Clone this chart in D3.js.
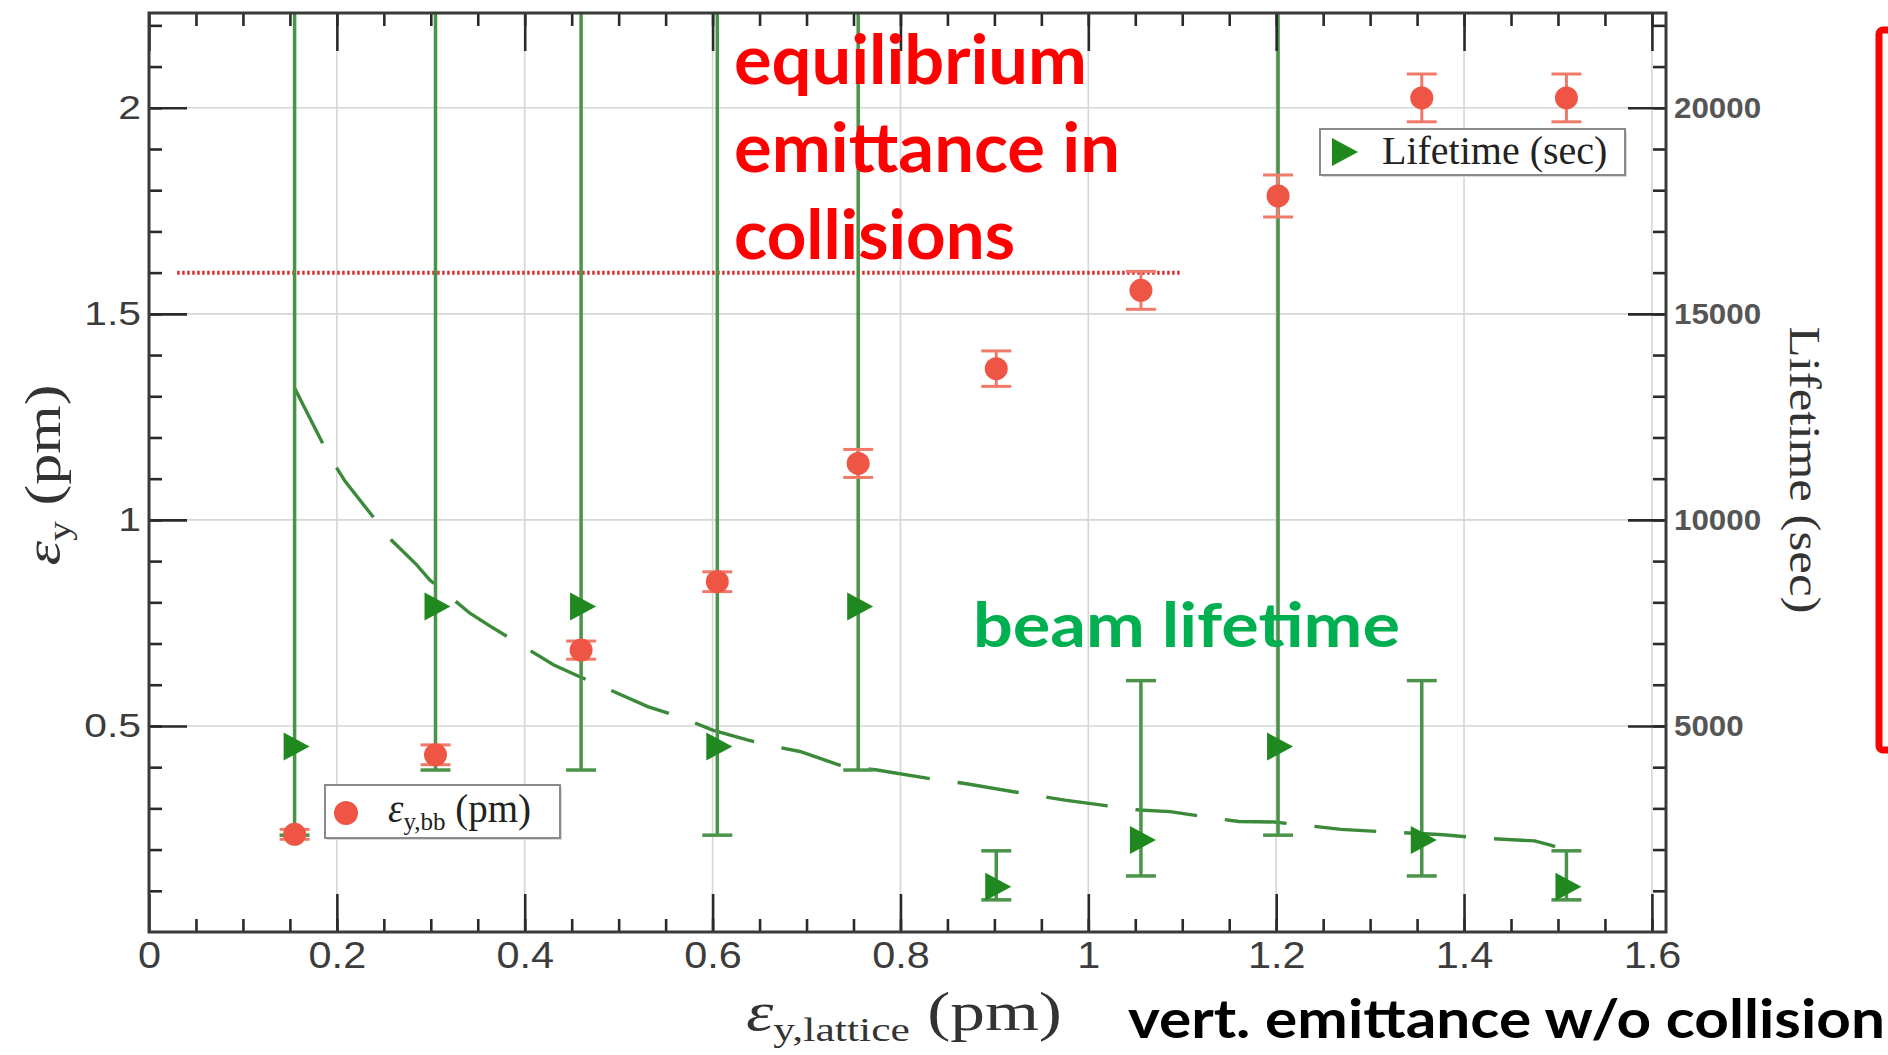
<!DOCTYPE html>
<html><head><meta charset="utf-8">
<script src="https://cdn.jsdelivr.net/npm/d3@7/dist/d3.min.js"></script>
<style>
html,body{margin:0;padding:0;background:#fff;}
svg{display:block;}
</style></head>
<body>
<svg id="chart" width="1888" height="1055"></svg>
<script>
// ---------- data ----------
const latticeEmit = [0.155, 0.305, 0.46, 0.605, 0.755, 0.902, 1.056, 1.202, 1.355, 1.509];
const emitBB      = [0.237, 0.430, 0.684, 0.850, 1.137, 1.367, 1.557, 1.786, 2.024, 2.024];
const emitBBErr   = [0.012, 0.024, 0.022, 0.024, 0.034, 0.043, 0.046, 0.051, 0.058, 0.058];
const lifetime     = [4500, 7900, 7900, 4500, 7900, 1100, 2230, 4500, 2230, 1100];
const lifetimeLow  = [2350, 3930, 3930, 2350, 3930, 780, 1360, 2350, 1360, 780];
const lifetimeHigh = [30000, 30000, 30000, 30000, 30000, 1970, 6100, 30000, 6100, 1970];
const fitX        = [0.155, 0.191, 0.209, 0.258, 0.285, 0.299, 0.342, 0.364, 0.431, 0.458, 0.531, 0.564, 0.600, 0.637, 0.666, 0.693, 0.735, 0.775, 0.837, 0.867, 0.940, 0.975, 1.054, 1.087, 1.160, 1.198, 1.269, 1.307, 1.378, 1.418, 1.475, 1.492, 1.508];
const fitLifetime = [13200, 11580, 10930, 9510, 8910, 8540, 7730, 7410, 6480, 6200, 5470, 5230, 4900, 4660, 4500, 4380, 4050, 3930, 3700, 3610, 3330, 3200, 2960, 2920, 2680, 2670, 2490, 2440, 2360, 2280, 2210, 2110, 1990];
const equilibriumLevel = 1.6;
const equilibriumRange = [0.03, 1.1];
const xTicks = [0, 0.2, 0.4, 0.6, 0.8, 1, 1.2, 1.4, 1.6];
const xTickLabels = ["0", "0.2", "0.4", "0.6", "0.8", "1", "1.2", "1.4", "1.6"];
const yTicks = [0.5, 1, 1.5, 2];
const yTickLabels = ["0.5", "1", "1.5", "2"];
const yRightTicks = [5000, 10000, 15000, 20000];
const yRightTickLabels = ["5000", "10000", "15000", "20000"];

// ---------- layout ----------
const L = 149, R = 1666, T = 13, B = 932;
const svg = d3.select('#chart');
const x = d3.scaleLinear().domain([0, 1.615]).range([L, R]);
const y = d3.scaleLinear().domain([0, 2.23]).range([B, T]);
const yR = d3.scaleLinear().domain([0, 22300]).range([B, T]);

svg.append('defs').append('clipPath').attr('id', 'plotclip')
  .append('rect').attr('x', L).attr('y', T).attr('width', R - L).attr('height', B - T);

// gridlines
const grid = svg.append('g');
grid.selectAll('line.gx').data(xTicks.slice(1)).join('line')
  .attr('x1', d => x(d)).attr('x2', d => x(d)).attr('y1', T).attr('y2', B)
  .attr('stroke', '#d6d6d6').attr('stroke-width', 1.6);
grid.selectAll('line.gy').data(yTicks).join('line')
  .attr('x1', L).attr('x2', R).attr('y1', d => y(d)).attr('y2', d => y(d))
  .attr('stroke', '#d6d6d6').attr('stroke-width', 1.6);

const plot = svg.append('g').attr('clip-path', 'url(#plotclip)');

// equilibrium dotted line
plot.append('line')
  .attr('x1', x(equilibriumRange[0])).attr('x2', x(equilibriumRange[1]))
  .attr('y1', y(equilibriumLevel)).attr('y2', y(equilibriumLevel))
  .attr('stroke', '#d83030').attr('stroke-width', 4).attr('stroke-dasharray', '2.5,2.5');

// dashed fit curve
const fitData = fitX.map((d, i) => [d, fitLifetime[i]]);
plot.append('path').datum(fitData)
  .attr('d', d3.line().x(d => x(d[0])).y(d => yR(d[1])))
  .attr('fill', 'none').attr('stroke', '#3a8a3a').attr('stroke-width', 3.4)
  .attr('stroke-dasharray', '62,28');

// green lifetime error bars
const gcol = '#4a944a';
const gErr = plot.append('g');
latticeEmit.forEach((xv, i) => {
  const cx = x(xv);
  gErr.append('line').attr('x1', cx).attr('x2', cx)
    .attr('y1', yR(lifetimeHigh[i])).attr('y2', yR(lifetimeLow[i]))
    .attr('stroke', gcol).attr('stroke-width', 3.5);
  [lifetimeHigh[i], lifetimeLow[i]].forEach(v => {
    gErr.append('line').attr('x1', cx - 15).attr('x2', cx + 15)
      .attr('y1', yR(v)).attr('y2', yR(v))
      .attr('stroke', gcol).attr('stroke-width', 3.5);
  });
});

// red emittance points with error bars
const rcol = '#ee5545';
const rErr = plot.append('g');
latticeEmit.forEach((xv, i) => {
  const cx = x(xv);
  const hi = emitBB[i] + emitBBErr[i], lo = emitBB[i] - emitBBErr[i];
  rErr.append('line').attr('x1', cx).attr('x2', cx).attr('y1', y(hi)).attr('y2', y(lo))
    .attr('stroke', '#f07a6a').attr('stroke-width', 3);
  [hi, lo].forEach(v => {
    rErr.append('line').attr('x1', cx - 15).attr('x2', cx + 15)
      .attr('y1', y(v)).attr('y2', y(v))
      .attr('stroke', '#f07a6a').attr('stroke-width', 3);
  });
});
plot.append('g').selectAll('circle').data(latticeEmit).join('circle')
  .attr('cx', d => x(d)).attr('cy', (d, i) => y(emitBB[i])).attr('r', 11.5)
  .attr('fill', rcol);

// green triangles
const triPath = 'M-11,-14 L-11,14 L15,0 Z';
plot.append('g').selectAll('path').data(latticeEmit).join('path')
  .attr('d', triPath)
  .attr('transform', (d, i) => `translate(${x(d)},${yR(lifetime[i])})`)
  .attr('fill', '#1f881f');

// ---------- axes ----------
function styleAxis(g) {
  g.select('.domain').remove();
  g.selectAll('.tick line').attr('stroke', '#2a2a2a').attr('stroke-width', 2.6);
  g.selectAll('.tick text').attr('font-family', 'Liberation Sans, Arial, sans-serif')
    .attr('fill', '#3c3c3c');
}
function stretchText(sel, k) {
  sel.each(function () {
    const w = this.getComputedTextLength();
    if (w > 0) d3.select(this).attr('textLength', w * k).attr('lengthAdjust', 'spacingAndGlyphs');
  });
}
const xMinor = d3.range(1, 33).map(k => k * 0.05);
const yMinor = d3.range(1, 23).map(k => k * 0.1);
const yRMinor = d3.range(1, 23).map(k => k * 1000);

// bottom
svg.append('g').attr('transform', `translate(0,${B})`)
  .call(d3.axisBottom(x).tickValues(xMinor).tickSizeInner(-13).tickSizeOuter(0).tickFormat(''))
  .call(styleAxis);
const xb = svg.append('g').attr('transform', `translate(0,${B})`)
  .call(d3.axisBottom(x).tickValues(xTicks).tickSizeInner(-38).tickSizeOuter(0).tickPadding(10)
    .tickFormat((d, i) => xTickLabels[i]))
  .call(styleAxis);
xb.selectAll('.tick text').attr('font-size', 36);
stretchText(xb.selectAll('.tick text'), 1.15);
// top
svg.append('g').attr('transform', `translate(0,${T})`)
  .call(d3.axisTop(x).tickValues(xMinor).tickSizeInner(-13).tickSizeOuter(0).tickFormat(''))
  .call(styleAxis);
svg.append('g').attr('transform', `translate(0,${T})`)
  .call(d3.axisTop(x).tickValues(xTicks).tickSizeInner(-38).tickSizeOuter(0).tickFormat(''))
  .call(styleAxis);
// left
svg.append('g').attr('transform', `translate(${L},0)`)
  .call(d3.axisLeft(y).tickValues(yMinor).tickSizeInner(-13).tickSizeOuter(0).tickFormat(''))
  .call(styleAxis);
const yl = svg.append('g').attr('transform', `translate(${L},0)`)
  .call(d3.axisLeft(y).tickValues(yTicks).tickSizeInner(-38).tickSizeOuter(0).tickPadding(8)
    .tickFormat((d, i) => yTickLabels[i]))
  .call(styleAxis);
yl.selectAll('.tick text').attr('font-size', 34);
stretchText(yl.selectAll('.tick text'), 1.2);
// right
svg.append('g').attr('transform', `translate(${R},0)`)
  .call(d3.axisRight(yR).tickValues(yRMinor).tickSizeInner(-13).tickSizeOuter(0).tickFormat(''))
  .call(styleAxis);
const yr = svg.append('g').attr('transform', `translate(${R},0)`)
  .call(d3.axisRight(yR).tickValues(yRightTicks).tickSizeInner(-38).tickSizeOuter(0).tickPadding(8)
    .tickFormat((d, i) => yRightTickLabels[i]))
  .call(styleAxis);
yr.selectAll('.tick text').attr('font-size', 29).attr('font-weight', 'bold').attr('fill', '#555');
stretchText(yr.selectAll('.tick text'), 1.08);

// frame
svg.append('rect').attr('x', L).attr('y', T).attr('width', R - L).attr('height', B - T)
  .attr('fill', 'none').attr('stroke', '#3a3a3a').attr('stroke-width', 3);

// ---------- legends ----------
function legendBox(x0, y0, w, h) {
  svg.append('rect').attr('x', x0 + 2).attr('y', y0 + 2).attr('width', w).attr('height', h)
    .attr('fill', '#d8d8d8');
  svg.append('rect').attr('x', x0).attr('y', y0).attr('width', w).attr('height', h)
    .attr('fill', '#fff').attr('stroke', '#8a8a8a').attr('stroke-width', 2);
}
legendBox(325, 785, 235, 53);
svg.append('circle').attr('cx', 346).attr('cy', 813).attr('r', 12).attr('fill', rcol);
const lg1 = svg.append('text').attr('x', 388).attr('y', 822)
  .attr('font-family', 'Liberation Serif, Times New Roman, serif').attr('font-size', 39).attr('fill', '#222');
lg1.append('tspan').attr('font-style', 'italic').text('ε');
lg1.append('tspan').attr('font-size', 25).attr('dy', 8).text('y,bb');
lg1.append('tspan').attr('dy', -8).text(' (pm)');

legendBox(1320, 129, 305, 46);
svg.append('path').attr('d', triPath).attr('transform', 'translate(1343,152)').attr('fill', '#1f881f');
svg.append('text').attr('x', 1382).attr('y', 164)
  .attr('font-family', 'Liberation Serif, Times New Roman, serif').attr('font-size', 40).attr('fill', '#222')
  .text('Lifetime (sec)');

// ---------- axis titles ----------
function fitWidth(textSel, target) {
  const bb = textSel.node().getBBox();
  const k = target / bb.width;
  textSel.attr('transform', `scale(${k},1)`);
}
const bt = svg.append('g').attr('transform', 'translate(904,1030)')
  .append('text').attr('text-anchor', 'middle')
  .attr('font-family', 'Liberation Serif, Times New Roman, serif').attr('font-size', 54).attr('fill', '#333');
bt.append('tspan').attr('font-style', 'italic').text('ε');
bt.append('tspan').attr('font-size', 34).attr('dy', 11).text('y,lattice');
bt.append('tspan').attr('dy', -11).text(' (pm)');
fitWidth(bt, 316);

const lt = svg.append('g').attr('transform', 'translate(60,475) rotate(-90)')
  .append('text').attr('text-anchor', 'middle')
  .attr('font-family', 'Liberation Serif, Times New Roman, serif').attr('font-size', 50).attr('fill', '#333');
lt.append('tspan').attr('font-style', 'italic').text('ε');
lt.append('tspan').attr('font-size', 32).attr('dy', 10).text('y');
lt.append('tspan').attr('dy', -10).text(' (pm)');
fitWidth(lt, 181);

const rt = svg.append('g').attr('transform', 'translate(1790,470) rotate(90)')
  .append('text').attr('text-anchor', 'middle')
  .attr('font-family', 'Liberation Serif, Times New Roman, serif').attr('font-size', 44).attr('fill', '#333')
  .text('Lifetime (sec)');
fitWidth(rt, 287);

// ---------- annotations ----------
function note(txt, x0, y0, size, color, width) {
  const t = svg.append('g').attr('transform', `translate(${x0},${y0})`)
    .append('text').attr('font-family', 'Lato, Open Sans, sans-serif').attr('font-weight', 700)
    .attr('font-size', size).attr('fill', color).text(txt);
  fitWidth(t, width);
}
note('equilibrium', 734, 84, 68, '#ff0000', 353);
note('emittance in', 734, 172, 68, '#ff0000', 386);
note('collisions', 734, 259, 68, '#ff0000', 281);
note('beam lifetime', 973, 647, 62, '#00b050', 427);
note('vert. emittance w/o collision', 1128, 1038, 54, '#000000', 757);

// red outline box at right edge
svg.append('rect').attr('x', 1879).attr('y', 30).attr('width', 60).attr('height', 720)
  .attr('rx', 4).attr('fill', 'none').attr('stroke', '#ff0000').attr('stroke-width', 7);
</script>
</body></html>
